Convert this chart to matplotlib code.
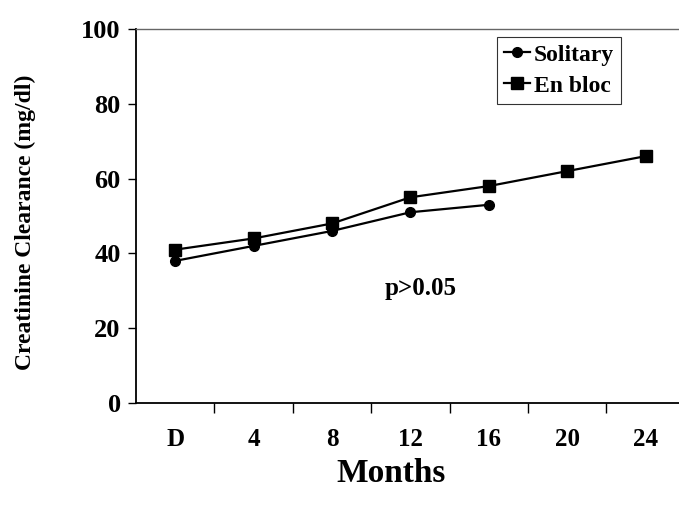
import matplotlib
matplotlib.use('Agg')
import matplotlib.pyplot as plt
from matplotlib.ticker import FixedLocator

plt.rcParams['font.family'] = 'Liberation Serif'
plt.rcParams['font.weight'] = 'bold'

months = ['D', '4', '8', '12', '16', '20', '24']
solitary = [38, 42, 46, 51, 53]
en_bloc = [41, 44, 48, 55, 58, 62, 66]

fig = plt.figure(figsize=(6.79, 5.07), dpi=100)
ax = fig.add_axes([136 / 679, 104 / 507, 543 / 679, 374 / 507])

ax.plot(range(len(solitary)), solitary, color='black', lw=1.6,
        marker='o', markersize=7, label='Solitary')
ax.plot(range(len(en_bloc)), en_bloc, color='black', lw=1.6,
        marker='s', markersize=9, label='En bloc')

ax.set_ylim(0, 100)
ax.set_xlim(-0.5, -0.5 + 543 / 78.4)
ax.set_yticks([0, 20, 40, 60, 80, 100])
ax.set_xticks(range(len(months)))
ax.set_xticklabels(months)
# category boundaries get the tick marks, labels sit between them
ax.xaxis.set_minor_locator(FixedLocator([i + 0.5 for i in range(len(months))]))
ax.tick_params(axis='x', which='major', length=0, pad=18, labelsize=18)
ax.tick_params(axis='x', which='minor', length=7, width=1, direction='out')
ax.tick_params(axis='y', length=6, width=1, direction='out', pad=5, labelsize=19)

ax.spines['right'].set_visible(False)
ax.spines['top'].set_color('#666666')
ax.spines['top'].set_linewidth(1)
ax.spines['left'].set_linewidth(1.3)
ax.spines['bottom'].set_linewidth(1.3)

ax.text(3.125, 30.7, 'p>0.05', ha='center', va='center', fontsize=18, fontweight='bold')

leg = ax.legend(loc='upper left', bbox_to_anchor=(497 / 679, 1 - 37 / 507),
                bbox_transform=fig.transFigure, frameon=True, fancybox=False,
                handlelength=1.1, handletextpad=0.15, borderpad=0.3,
                labelspacing=0.4, borderaxespad=0, fontsize=17)
leg.get_frame().set_edgecolor('black')
leg.get_frame().set_linewidth(0.8)

fig.text(0.037, 0.562, 'Creatinine Clearance (mg/dl)', rotation=90,
         ha='center', va='center', fontsize=17, fontweight='bold')
fig.text(0.576, 0.066, 'Months', ha='center', va='center', fontsize=24, fontweight='bold')

fig.savefig('out.png', dpi=100)
